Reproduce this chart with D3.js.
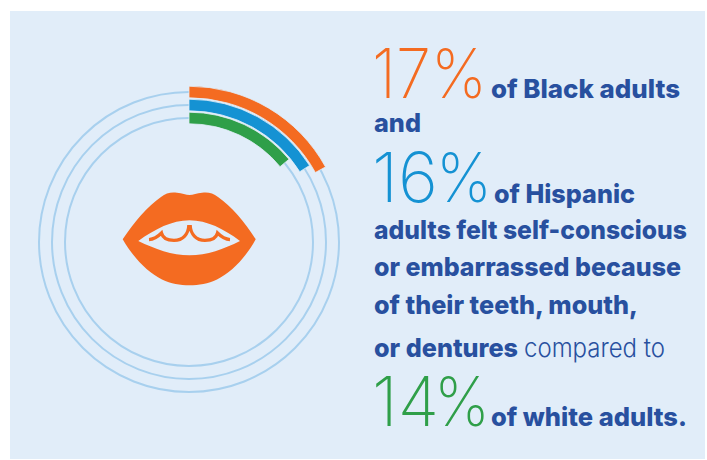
<!DOCTYPE html>
<html>
<head>
<meta charset="utf-8">
<script src="https://cdn.jsdelivr.net/npm/d3@7"></script>
<style>
  html, body { margin: 0; padding: 0; background: #ffffff; }
  svg { display: block; }
</style>
</head>
<body>
<svg id="chart" width="707" height="460"></svg>
<script>
// Share of adults who felt self-conscious or embarrassed, by group
const groups = ["Black adults", "Hispanic adults", "white adults"];
const shares = [17, 16, 14];
const groupColors = ["#f46b21", "#1592d3", "#2f9f49"];
const trackRadii = [150, 137, 124];

const svg = d3.select("#chart");
svg.append("rect").attr("x", 10).attr("y", 11).attr("width", 695).attr("height", 448).attr("fill", "#e1edf9");

const angle = d3.scaleLinear().domain([0, 100]).range([0, 2 * Math.PI]);
const ring = svg.append("g").attr("transform", "translate(189,242)");

ring.selectAll("circle").data(trackRadii).join("circle")
  .attr("r", d => d)
  .attr("fill", "none")
  .attr("stroke", "#a8d0ee")
  .attr("stroke-width", 2);

const arc = d3.arc();
ring.selectAll("path.share").data(shares).join("path")
  .attr("class", "share")
  .attr("fill", (d, i) => groupColors[i])
  .attr("stroke", "#e1edf9")
  .attr("stroke-width", 0.8)
  .attr("d", (d, i) => arc({
    innerRadius: trackRadii[i] - 5.8,
    outerRadius: trackRadii[i] + 5.8,
    startAngle: 0,
    endAngle: angle(d)
  }));

// Mouth icon: lips with an opening, and the gum line drawn over the opening
const mouth = svg.append("g").attr("fill", "#f46b21");
mouth.append("path")
  .attr("fill-rule", "evenodd")
  .attr("d", "M122.7,239.3 C134,222 148,206 161,197 C166,193 171,192 177,192.8 C182,193.4 186,195 189.5,195 C193,195 197,193.4 202,192.8 C208,192 213,193 218,197 C231,206 245,222 255.7,239.3 C246,257 232,272 217,279.5 C208,284 199,285.2 189.5,285.2 C180,285.2 171,284 162,279.5 C147,272 133,257 122.7,239.3 Z M138.3,241 C155,229 172,220.3 189.5,220.3 C207,220.3 224,229 240,241 C224,249 207,255.3 189.5,255.3 C172,255.3 155,249 138.3,241 Z");
mouth.append("path")
  .attr("fill", "none")
  .attr("stroke", "#f46b21")
  .attr("stroke-width", 3.2)
  .attr("d", "M149,239.6 C154,239.3 158,236.5 161.5,233 C163,239 168,240.4 174,240.4 C183,240.4 188.5,234 188.8,225 M230,239.6 C225,239.3 221,236.5 217.5,233 C216,239 211,240.4 205,240.4 C196,240.4 190.5,234 190.2,225");

// Copy block: a large light figure followed by bold running text
const ink = "#28509f";
const copy = svg.append("g").attr("font-family", "Inter, sans-serif").attr("fill", ink);

function figure(y, value, color, digitsEnd, signStart, signEnd) {
  const g = copy.append("g").attr("font-size", 69).attr("font-weight", 200).attr("fill", color);
  g.append("text").attr("x", 372).attr("y", y)
    .attr("textLength", digitsEnd - 372).attr("lengthAdjust", "spacingAndGlyphs")
    .text(value);
  g.append("text").attr("x", signStart - 6).attr("y", y)
    .attr("textLength", signEnd - signStart + 12).attr("lengthAdjust", "spacingAndGlyphs")
    .text("%");
}
function line(x, y, str, width, weight = 800) {
  copy.append("text").attr("x", x).attr("y", y)
    .attr("font-size", 26).attr("font-weight", weight)
    .attr("textLength", width).attr("lengthAdjust", "spacingAndGlyphs")
    .text(str);
}

figure(98, shares[0], groupColors[0], 431, 437, 481);
line(491, 98, "of Black adults", 189);
line(374, 132, "and", 47);
figure(202, shares[1], groupColors[1], 438, 442, 486);
line(494, 203, "of Hispanic", 141);
line(374, 239, "adults felt self-conscious", 313);
line(374, 276, "or embarrassed because", 307);
line(374, 314, "of their teeth, mouth,", 264);
line(374, 357, "or dentures", 144);
line(524, 357, "compared to", 141, 300);
figure(426, shares[2], groupColors[2], 439, 440, 484);
line(491, 426, "of white adults.", 196);
</script>
</body>
</html>
